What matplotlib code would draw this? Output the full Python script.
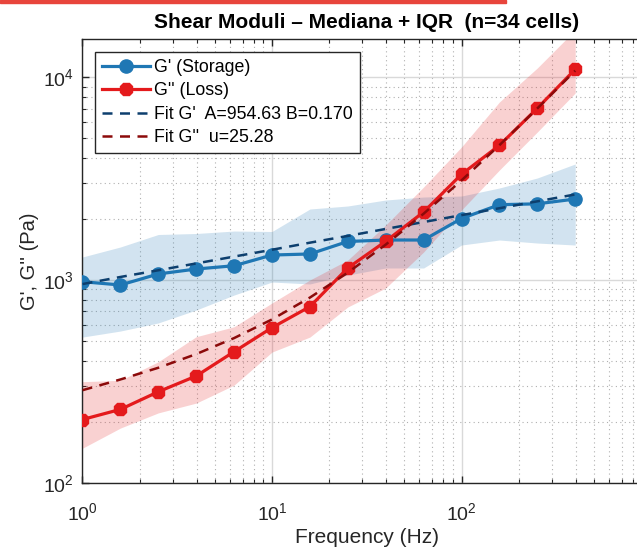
import matplotlib
matplotlib.use("Agg")
import matplotlib.pyplot as plt
from matplotlib.patches import Rectangle
from matplotlib.ticker import LogLocator, NullFormatter

plt.rcParams['font.family'] = ['Liberation Sans', 'DejaVu Sans']
plt.rcParams['mathtext.fontset'] = 'custom'
plt.rcParams['mathtext.rm'] = 'Liberation Sans'
plt.rcParams['mathtext.it'] = 'Liberation Sans:italic'
plt.rcParams['mathtext.bf'] = 'Liberation Sans:bold'

# ---- data ----
freq = [1.0, 1.585, 2.512, 3.981, 6.31, 10.0, 15.85, 25.12, 39.81, 63.1, 100.0, 158.5, 251.2, 398.1]

g_storage = [981, 945, 1071, 1133, 1176, 1328, 1344, 1549, 1575, 1575, 2011, 2352, 2376, 2509]
g_storage_q1 = [523, 560, 614, 711, 843, 977, 956, 1058, 1146, 1146, 1488, 1575, 1522, 1488]
g_storage_q3 = [1299, 1455, 1677, 1696, 1744, 1735, 2240, 2318, 2481, 2567, 2596, 2844, 3186, 3736]

g_loss = [205, 230, 281, 336, 443, 582, 739, 1146, 1552, 2165, 3322, 4618, 7033, 10953]
g_loss_q1 = [148, 186, 221, 247, 303, 441, 523, 736, 913, 1374, 2215, 3488, 5372, 8365]
g_loss_q3 = [315, 320, 395, 525, 588, 770, 1000, 1255, 1867, 2876, 4531, 7553, 11115, 17115]

fit_storage = [955, 1035, 1117, 1207, 1305, 1410, 1528, 1650, 1786, 1932, 2089, 2260, 2444, 2643]
fit_loss = [286, 323, 369, 431, 517, 639, 819, 1087, 1495, 2124, 3100, 4625, 7019, 10787]

title = "Shear Moduli \u2013 Mediana + IQR  (n=34 cells)"
legend_labels = ["G' (Storage)", "G'' (Loss)", "Fit G'  A=954.63 B=0.170", "Fit G''  u=25.28"]
xlabel = "Frequency (Hz)"
ylabel = "G', G'' (Pa)"

c_blue = '#1f77b4'
c_red = '#e41a1c'
c_fit_blue = '#0d3f6e'
c_fit_red = '#8c0a0a'

W, H = 637, 548
fig = plt.figure(figsize=(W / 100, H / 100), dpi=100)
ax_l, ax_r, ax_t, ax_b = 82.5, 651.0, 39.3, 482.7
ax = fig.add_axes([ax_l / W, (H - ax_b) / H, (ax_r - ax_l) / W, (ax_b - ax_t) / H])

ax.set_xscale('log')
ax.set_yscale('log')

ax.fill_between(freq, g_storage_q1, g_storage_q3, color=c_blue, alpha=0.2, linewidth=0, zorder=1)
ax.fill_between(freq, g_loss_q1, g_loss_q3, color=c_red, alpha=0.2, linewidth=0, zorder=1)

l1, = ax.plot(freq, g_storage, '-', color=c_blue, lw=2.3, marker='o', ms=9.5, zorder=3)
l2, = ax.plot(freq, g_loss, '-', color=c_red, lw=2.3, marker='8', ms=10, zorder=3)
l3, = ax.plot(freq, fit_storage, '--', color=c_fit_blue, lw=1.8, dashes=(4, 3), zorder=4)
l4, = ax.plot(freq, fit_loss, '--', color=c_fit_red, lw=1.8, dashes=(4, 3), zorder=4)

ax.set_xlim(1, 1000)
ax.set_ylim(100, 15400)

ax.xaxis.set_minor_locator(LogLocator(base=10, subs=range(2, 10), numticks=20))
ax.yaxis.set_minor_locator(LogLocator(base=10, subs=range(2, 10), numticks=20))
ax.xaxis.set_minor_formatter(NullFormatter())
ax.yaxis.set_minor_formatter(NullFormatter())

ax.grid(True, which='major', color='#d9d9d9', lw=1.0, ls='-', zorder=0)
ax.grid(True, which='minor', color='#b0b0b0', lw=0.8, ls=(0, (1, 3)), zorder=0)
ax.set_axisbelow(True)

ax.tick_params(which='both', direction='in', top=True, right=True, colors='#262626')
ax.tick_params(which='major', length=5, width=1, labelsize=14, labelcolor='#262626')
ax.tick_params(axis='x', which='major', pad=14)
ax.tick_params(axis='y', which='major', pad=6)
ax.tick_params(which='minor', length=3, width=0.8)
for s in ax.spines.values():
    s.set_color('#262626')
    s.set_linewidth(1.0)

ax.set_xlabel(xlabel, fontsize=15, color='#262626')
ax.xaxis.label.set_va('center')
ax.xaxis.set_label_coords(0.5, -(537.5 - ax_b) / (ax_b - ax_t))
ax.set_ylabel(ylabel, fontsize=14.5, color='#262626', labelpad=3)
ax.set_title(title, fontsize=15, fontweight='bold', color='black', pad=8)

leg = ax.legend([l1, l2, l3, l4], legend_labels, loc='upper left',
                bbox_to_anchor=(13 / (ax_r - ax_l), 1 - 13 / (ax_b - ax_t)),
                borderaxespad=0, fontsize=12.8, fancybox=False, framealpha=1,
                edgecolor='#262626', handlelength=2.7, handletextpad=0.22,
                labelspacing=0.36, borderpad=0.38)
leg.get_frame().set_linewidth(1.0)

fig.patches.append(Rectangle((0, 1 - 3 / H), 506 / W, 3 / H, transform=fig.transFigure,
                             color='#e8453c', zorder=10))

fig.savefig('out.png', dpi=100)
